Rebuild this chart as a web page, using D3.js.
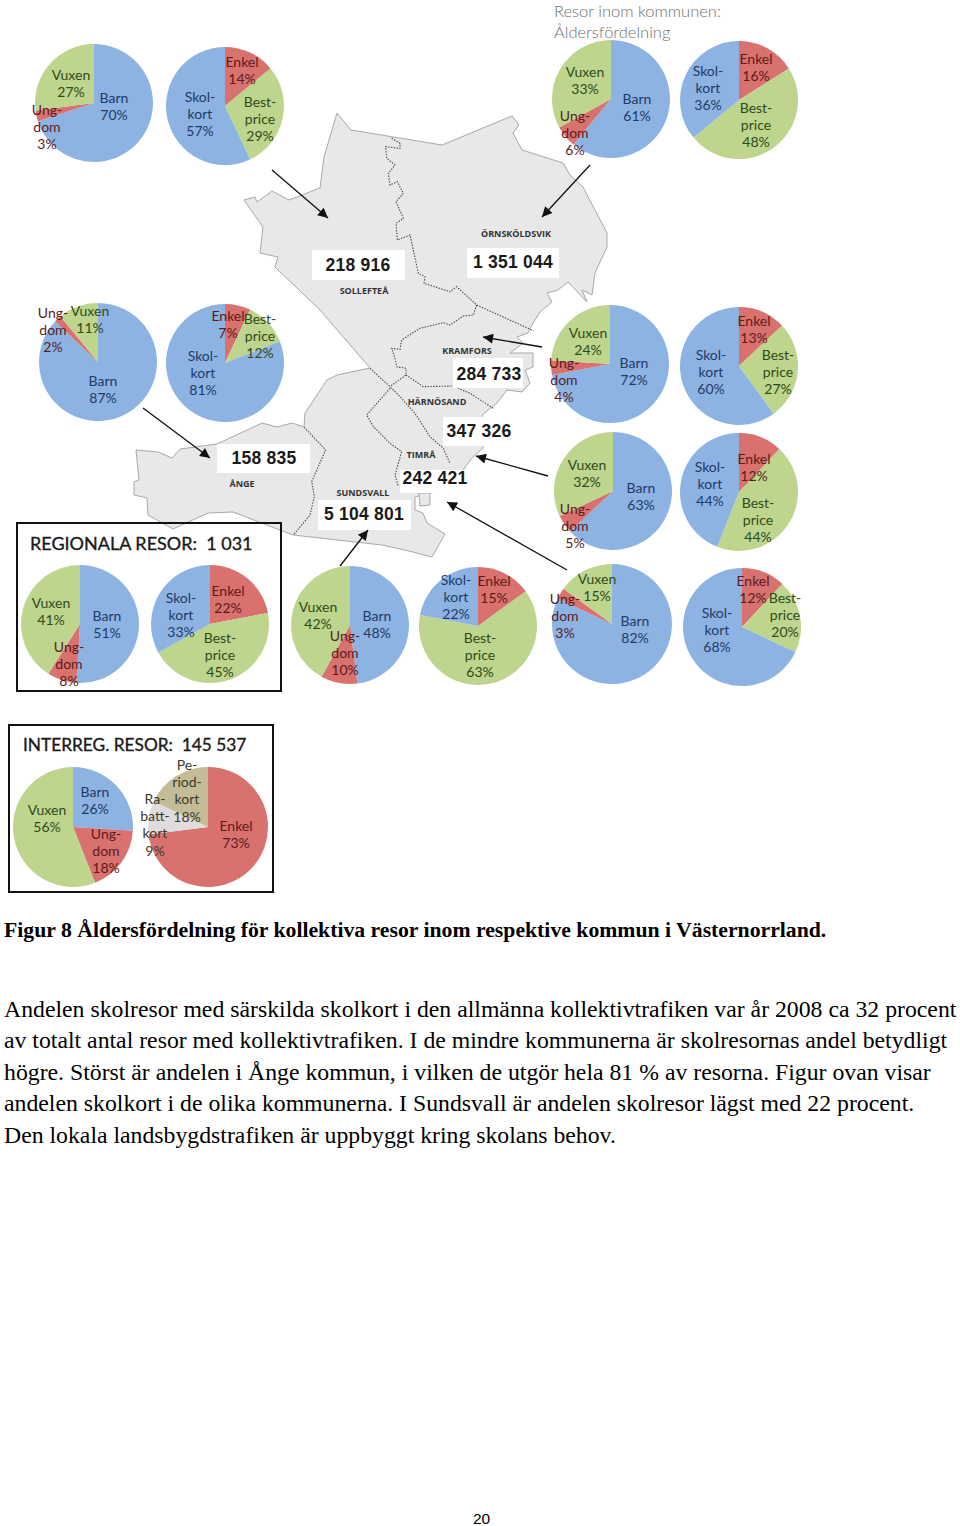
<!DOCTYPE html>
<html><head><meta charset="utf-8">
<script src="https://cdn.jsdelivr.net/npm/d3@7"></script>
<style>html,body{margin:0;padding:0;background:#fff}svg{display:block}</style>
</head><body><div id="c"></div>
<script>
// ---------- data ----------
const ageCategories = ["Barn", "Ung-|dom", "Vuxen"];
const ticketCategories = ["Enkel", "Best-|price", "Skol-|kort"];
const interregTicketCategories = ["Enkel", "Ra-|batt-|kort", "Pe-|riod-|kort"];
const solleftea = [70, 3, 27],   soleftTicket = [14, 29, 57];
const ornskoldsvik = [61, 6, 33], ornsTicket = [16, 48, 36];
const ange = [87, 2, 11],        angeTicket = [7, 12, 81];
const kramfors = [72, 4, 24],    kramTicket = [13, 27, 60];
const harnosand = [63, 5, 32],   harnTicket = [12, 44, 44];
const regional = [51, 8, 41],    regTicket = [22, 45, 33];
const sundsvall = [48, 10, 42],  sundTicket = [15, 63, 22];
const timra = [82, 3, 15],       timraTicket = [12, 20, 68];
const interreg = [26, 18, 56],   interregTicket = [73, 9, 18];
const totals = ["218 916", "1 351 044", "284 733", "347 326", "242 421", "5 104 801", "158 835"];
const municipalities = ["ÖRNSKÖLDSVIK", "SOLLEFTEÅ", "KRAMFORS", "HÄRNÖSAND", "TIMRÅ", "SUNDSVALL", "ÅNGE"];

// ---------- layout ----------
const W = 960, H = 1526;
const svg = d3.select("#c").append("svg").attr("width", W).attr("height", H).attr("viewBox", [0,0,W,H]);
const sans = "Lato, 'Open Sans', sans-serif";

const outline = [[244,200],[255,197],[257,202],[272,191],[289,200],[320,188],[324,157],[337,113],[351,130],[442,145],[512,116],[519,125],[513,133],[522,150],[563,163],[570,175],[583,187],[607,233],[607,247],[595,273],[592,295],[582,290],[587,302],[568,282],[558,290],[547,293],[552,302],[540,312],[533,323],[528,333],[517,337],[523,343],[510,353],[533,353],[533,367],[525,370],[530,383],[522,392],[507,390],[497,403],[482,415],[483,448],[475,455],[468,463],[450,490],[430,493],[415,497],[415,510],[423,513],[427,523],[445,534],[432,557],[413,552],[382,545],[293,535],[233,512],[208,513],[173,529],[148,515],[147,498],[134,495],[134,482],[139,480],[136,450],[158,452],[172,458],[180,449],[217,444],[262,423],[277,427],[292,423],[304,427],[305,413],[327,380],[337,375],[370,368],[320,310],[275,267],[278,257],[260,253],[263,227]];
const z2 = p => [320+p[0]/3, p[1]/3];
const z3 = p => [120+p[0]/3, 380+p[1]/3];
const borders = [
  [[215,415],[240,430],[240,445],[197,440],[200,475],[225,495],[205,520],[210,555],[232,545],[250,580],[228,605],[250,655],[228,670],[232,720],[270,705],[295,820],[315,830],[312,850],[390,875],[410,860],[470,915],[640,992]].map(z2),
  [[470,915],[460,945],[430,948],[390,975],[370,968],[300,985],[245,1020],[240,1048],[215,1045],[225,1075],[230,1100],[258,1105],[258,1125],[210,1160]].map(z2),
  [[258,1125],[310,1160],[400,1158],[450,1180],[520,1225]].map(z2),
  [[150,1105],[210,1160],[240,1190]].map(z2).concat([[840,50],[885,100],[930,170],[970,205],[990,250]].map(z3)),
  [[810,25],[740,105],[760,140],[810,190],[845,215],[825,285],[835,320]].map(z3),
  [[553,142],[617,210],[575,305],[583,350],[570,405],[520,465]].map(z3)
];
const islands = [[[419,493],[430,493],[430,505],[420,506]]];
const line = d3.line();
const map = svg.append("g");
map.append("path").attr("d", line(outline)+"Z").attr("fill","#e8e8e8").attr("stroke","#a8a8a8").attr("stroke-width",1);
map.selectAll(".isl").data(islands).join("path").attr("d",d=>line(d)+"Z").attr("fill","#e8e8e8").attr("stroke","#a8a8a8");
map.selectAll(".b").data(borders).join("path").attr("d",d=>line(d)).attr("fill","none").attr("stroke","#444").attr("stroke-width",1.1).attr("stroke-dasharray","1.4 1.4");

const totalBoxes = [[312,250,93,30,358,271],[467,248,92,30,513,268],[453,358,70,30,489,380],[443,417,70,29,479,437],[400,470,68,23,435,484],[318,500,93,30,364,520],[217,444,93,29,264,464]];
totalBoxes.forEach((b,i)=>{
  map.append("rect").attr("x",b[0]).attr("y",b[1]).attr("width",b[2]).attr("height",b[3]).attr("fill","#fff");
  map.append("text").attr("x",b[4]).attr("y",b[5]).attr("text-anchor","middle")
    .attr("font-family","'Liberation Sans',sans-serif").attr("font-weight","bold").attr("font-size",17.5).attr("letter-spacing",0.25).attr("fill","#1a1a1a").text(totals[i]);
});
const namePos = [[516,237],[364,294],[467,354],[437,405],[421,458],[363,496],[242,487]];
municipalities.forEach((n,i)=>map.append("text").attr("x",namePos[i][0]).attr("y",namePos[i][1]).attr("text-anchor","middle")
  .attr("font-family","'Open Sans',sans-serif").attr("font-weight","bold").attr("font-size",9).attr("fill","#333").text(n));

// arrows
const defs = svg.append("defs");
defs.append("marker").attr("id","ah").attr("viewBox","0 0 10 10").attr("refX",10).attr("refY",5)
  .attr("markerWidth",13).attr("markerHeight",10).attr("markerUnits","userSpaceOnUse").attr("orient","auto")
  .append("path").attr("d","M0,0L10,5L0,10Z").attr("fill","#111");
const arrows = [[272,170,328,218],[590,165,542,217],[143,408,210,458],[542,347,483,337],[548,476,476,456],[567,570,447,502],[340,566,368,530]];
svg.selectAll(".arrow").data(arrows).join("line").attr("x1",d=>d[0]).attr("y1",d=>d[1]).attr("x2",d=>d[2]).attr("y2",d=>d[3])
  .attr("stroke","#111").attr("stroke-width",1.3).attr("marker-end","url(#ah)");

// frames
[[17,523,264,168],[9,725,264,167]].forEach(r=>svg.append("rect").attr("x",r[0]).attr("y",r[1]).attr("width",r[2]).attr("height",r[3]).attr("fill","none").attr("stroke","#111").attr("stroke-width",2));

// titles
const t = (x,y,s,size,fill,weight,fam)=>svg.append("text").attr("x",x).attr("y",y).attr("font-size",size).attr("fill",fill).attr("font-weight",weight||"normal").attr("font-family",fam||sans).attr("xml:space","preserve").style("white-space","pre").text(s);
t(30,550,"REGIONALA RESOR:  1 031",18,"#1a1a1a").attr("stroke","#1a1a1a").attr("stroke-width",0.35);
t(23,751,"INTERREG. RESOR:  145 537",17.3,"#1a1a1a").attr("stroke","#1a1a1a").attr("stroke-width",0.35);
t(554,17,"Resor inom kommunen:",16.5,"#6e6e6e","300");
t(554,38,"Åldersfördelning",16.5,"#6e6e6e","300");

// pies
const blue="#8db3e2", red="#d9716f", green="#bdd58c", beige="#c4bc96", grey="#dedcdc";
const navy="#1f3a66", maroon="#5a1c1c", olive="#2f4a1a", dark="#3a3a2a";
const agePal = {fill:[blue,red,green], text:[navy,maroon,olive]};
const ticketPal = {fill:[red,green,blue], text:[maroon,olive,navy]};
const interregTicketPal = {fill:[red,grey,beige], text:[maroon,dark,dark]};

const pies = [
 {v:solleftea,c:ageCategories,p:agePal,cx:94,cy:103,r:59,l:[[114,107],[47,127],[71,84]]},
 {v:soleftTicket,c:ticketCategories,p:ticketPal,cx:225,cy:106,r:59,l:[[242,71],[260,119],[200,114]]},
 {v:ornskoldsvik,c:ageCategories,p:agePal,cx:611,cy:99,r:59,l:[[637,108],[575,133],[585,81]]},
 {v:ornsTicket,c:ticketCategories,p:ticketPal,cx:739,cy:100,r:59,l:[[756,68],[756,125],[708,88]]},
 {v:ange,c:ageCategories,p:agePal,cx:98,cy:362,r:59,l:[[103,390],[53,330],[90,320]]},
 {v:angeTicket,c:ticketCategories,p:ticketPal,cx:225,cy:363,r:59,l:[[228,325],[260,336],[203,373]]},
 {v:kramfors,c:ageCategories,p:agePal,cx:610,cy:364,r:59,l:[[634,372],[564,380],[588,342]]},
 {v:kramTicket,c:ticketCategories,p:ticketPal,cx:739,cy:366,r:59,l:[[754,330],[778,372],[711,372]]},
 {v:harnosand,c:ageCategories,p:agePal,cx:613,cy:491,r:59,l:[[641,497],[575,526],[587,474]]},
 {v:harnTicket,c:ticketCategories,p:ticketPal,cx:739,cy:492,r:59,l:[[754,468],[758,520],[710,484]]},
 {v:regional,c:ageCategories,p:agePal,cx:80,cy:624,r:59,l:[[107,625],[69,664],[51,612]]},
 {v:regTicket,c:ticketCategories,p:ticketPal,cx:210,cy:624,r:59,l:[[228,600],[220,655],[181,615]]},
 {v:sundsvall,c:ageCategories,p:agePal,cx:350,cy:625,r:59,l:[[377,625],[345,653],[318,616]]},
 {v:sundTicket,c:ticketCategories,p:ticketPal,cx:478,cy:626,r:59,l:[[494,590],[480,655],[456,597]]},
 {v:timra,c:ageCategories,p:agePal,cx:612,cy:624,r:60,l:[[635,630],[565,616],[597,588]]},
 {v:timraTicket,c:ticketCategories,p:ticketPal,cx:742,cy:627,r:59,l:[[753,590],[785,615],[717,630]]},
 {v:interreg,c:ageCategories,p:agePal,cx:73,cy:827,r:60,l:[[95,801],[106,851],[47,819]]},
 {v:interregTicket,c:interregTicketCategories,p:interregTicketPal,cx:208,cy:827,r:60,l:[[236,835],[155,825],[187,791]]}
];
const pieGen = d3.pie().sort(null);
const arcGen = d3.arc().innerRadius(0);
pies.forEach(pd=>{
  const g = svg.append("g").attr("transform",`translate(${pd.cx},${pd.cy})`);
  g.selectAll("path").data(pieGen(pd.v)).join("path")
    .attr("d",d=>arcGen.outerRadius(pd.r)(d)).attr("fill",(d,i)=>pd.p.fill[i]);
});
pies.forEach(pd=>{
  pd.v.forEach((val,i)=>{
    const lines = pd.c[i].split("|").concat(val+"%");
    const lh = 17.3, [x,y] = pd.l[i];
    const y0 = y - (lines.length-1)*lh/2 + 4.8;
    lines.forEach((s,j)=>svg.append("text").attr("x",x).attr("y",y0+j*lh).attr("text-anchor","middle")
      .attr("font-family",sans).attr("font-size",14).attr("fill",pd.p.text[i]).text(s));
  });
});

// text
const serif = "'Liberation Serif',serif";
t(4,937,"Figur 8 Åldersfördelning för kollektiva resor inom respektive kommun i Västernorrland.",21.72,"#000","bold",serif);
const body = [
 "Andelen skolresor med särskilda skolkort i den allmänna kollektivtrafiken var år 2008 ca 32 procent",
 "av totalt antal resor med kollektivtrafiken. I de mindre kommunerna är skolresornas andel betydligt",
 "högre. Störst är andelen i Ånge kommun, i vilken de utgör hela 81 % av resorna. Figur ovan visar",
 "andelen skolkort i de olika kommunerna. I Sundsvall är andelen skolresor lägst med 22 procent.",
 "Den lokala landsbygdstrafiken är uppbyggt kring skolans behov."
];
const bodyY = [1017,1048,1079.5,1111,1142.5];
body.forEach((s,i)=>t(4,bodyY[i],s,23.75,"#000","normal",serif));
t(473,1524,"20",15.5,"#000","normal","'Liberation Sans',sans-serif");
</script></body></html>
